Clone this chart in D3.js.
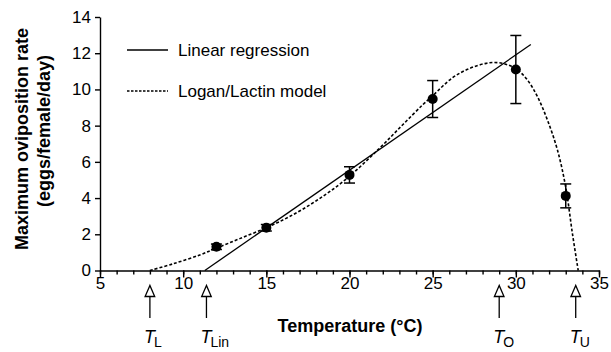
<!DOCTYPE html>
<html>
<head>
<meta charset="utf-8">
<script src="https://cdn.jsdelivr.net/npm/d3@7"></script>
<style>
  body { margin: 0; background: #fff; }
  svg { display: block; font-family: "Liberation Sans", Arial, Helvetica, sans-serif; }
  .axis path, .axis line { stroke: #000; stroke-width: 1.4; }
  .axis text { font-size: 17px; fill: #000; }
</style>
</head>
<body>
<div id="chart"></div>
<script>
// observed means with error bars
const temps = [12, 15, 20, 25, 30, 33];
const rates = [1.31, 2.36, 5.28, 9.47, 11.1, 4.12];
const errs  = [0.15, 0.18, 0.45, 1.02, 1.88, 0.66];

// linear regression (end points)
const linT = [11.3, 30.9];
const linR = [0, 12.48];

// Logan/Lactin model
const modelT = [8.0, 9.4, 11.0, 12.0, 13.4, 15.0, 16.4, 18.0, 19.8, 21.8, 23.2, 24.4, 25.0, 26.2, 27.2, 28.2, 28.9, 29.5, 30.1, 30.7, 31.3, 31.9, 32.5, 33.0, 33.4, 33.75];
const modelR = [0, 0.37, 0.86, 1.23, 1.76, 2.36, 2.98, 3.85, 5.05, 6.75, 8.05, 9.15, 9.65, 10.65, 11.15, 11.44, 11.48, 11.36, 11.08, 10.52, 9.6, 8.31, 6.66, 4.6, 2.05, 0];

// threshold markers
const markT = [8.0, 11.4, 29.0, 33.6];
const markLabel = ["L", "Lin", "O", "U"];

const xTicks = [5, 10, 15, 20, 25, 30, 35];
const yTicks = [0, 2, 4, 6, 8, 10, 12, 14];

const W = 611, H = 352;
const svg = d3.select("#chart").append("svg")
  .attr("width", W).attr("height", H);

const x = d3.scaleLinear().domain([5, 35]).range([100, 599]);
const y = d3.scaleLinear().domain([0, 14]).range([270.5, 17]);

// minor x ticks
svg.append("g")
  .attr("class", "axis")
  .attr("transform", "translate(0," + y(0) + ")")
  .call(d3.axisBottom(x).tickValues(d3.range(5, 36, 1)).tickSize(4).tickSizeOuter(0).tickFormat(""))
  .call(g => g.select(".domain").remove());

// major x axis
svg.append("g")
  .attr("class", "axis")
  .attr("transform", "translate(0," + y(0) + ")")
  .call(d3.axisBottom(x).tickValues(xTicks).tickSize(7).tickSizeOuter(0).tickFormat(d3.format("d")))
  .call(g => g.selectAll("text").attr("y", 6.5));

// y axis
svg.append("g")
  .attr("class", "axis")
  .attr("transform", "translate(" + x(5) + ",0)")
  .call(d3.axisLeft(y).tickValues(yTicks).tickSize(5).tickSizeOuter(0).tickPadding(4));

// axis titles
svg.append("text")
  .attr("x", 350).attr("y", 332)
  .attr("text-anchor", "middle")
  .style("font-size", "18px").style("font-weight", "bold")
  .text("Temperature (°C)");

svg.append("text")
  .attr("transform", "translate(28,139) rotate(-90)")
  .attr("text-anchor", "middle")
  .style("font-size", "18px").style("font-weight", "bold")
  .text("Maximum oviposition rate");

svg.append("text")
  .attr("transform", "translate(50,131) rotate(-90)")
  .attr("text-anchor", "middle")
  .style("font-size", "18px").style("font-weight", "bold")
  .text("(eggs/female/day)");

// model curve
const modelData = modelT.map((t, i) => ({t: t, r: modelR[i]}));
svg.append("path").datum(modelData)
  .attr("fill", "none")
  .attr("stroke", "#000")
  .attr("stroke-width", 1.6)
  .attr("stroke-dasharray", "3,2")
  .attr("d", d3.line().curve(d3.curveCatmullRom.alpha(0.5))
    .x(d => x(d.t)).y(d => y(d.r)));

// linear regression
const linData = linT.map((t, i) => ({t: t, r: linR[i]}));
svg.append("path").datum(linData)
  .attr("fill", "none")
  .attr("stroke", "#000")
  .attr("stroke-width", 1.3)
  .attr("d", d3.line().x(d => x(d.t)).y(d => y(d.r)));

// error bars + points
const obs = temps.map((t, i) => ({t: t, r: rates[i], e: errs[i]}));
const eb = svg.append("g").selectAll("g").data(obs).enter().append("g");
eb.append("line")
  .attr("x1", d => x(d.t)).attr("x2", d => x(d.t))
  .attr("y1", d => y(d.r - d.e)).attr("y2", d => y(d.r + d.e))
  .attr("stroke", "#000").attr("stroke-width", 1.5);
eb.append("line")
  .attr("x1", d => x(d.t) - 5.5).attr("x2", d => x(d.t) + 5.5)
  .attr("y1", d => y(d.r + d.e)).attr("y2", d => y(d.r + d.e))
  .attr("stroke", "#000").attr("stroke-width", 1.5);
eb.append("line")
  .attr("x1", d => x(d.t) - 5.5).attr("x2", d => x(d.t) + 5.5)
  .attr("y1", d => y(d.r - d.e)).attr("y2", d => y(d.r - d.e))
  .attr("stroke", "#000").attr("stroke-width", 1.5);
eb.append("circle")
  .attr("cx", d => x(d.t)).attr("cy", d => y(d.r))
  .attr("r", 5).attr("fill", "#000");

// legend
const legend = svg.append("g");
legend.append("line")
  .attr("x1", 127).attr("x2", 168).attr("y1", 50).attr("y2", 50)
  .attr("stroke", "#000").attr("stroke-width", 1.3);
legend.append("text")
  .attr("x", 178).attr("y", 56)
  .style("font-size", "17px")
  .text("Linear regression");
legend.append("line")
  .attr("x1", 127).attr("x2", 168).attr("y1", 91).attr("y2", 91)
  .attr("stroke", "#000").attr("stroke-width", 1.5)
  .attr("stroke-dasharray", "2.5,1.5");
legend.append("text")
  .attr("x", 178).attr("y", 97)
  .style("font-size", "17px")
  .text("Logan/Lactin model");

// threshold arrows
const marks = svg.append("g").selectAll("g")
  .data(markT.map((t, i) => ({t: t, lab: markLabel[i]})))
  .enter().append("g")
  .attr("transform", d => "translate(" + x(d.t) + ",0)");
marks.append("path")
  .attr("d", "M0,285.5L-4.8,296.5L4.8,296.5Z")
  .attr("fill", "#fff").attr("stroke", "#000").attr("stroke-width", 1.3);
marks.append("line")
  .attr("x1", 0).attr("x2", 0).attr("y1", 296.5).attr("y2", 318)
  .attr("stroke", "#000").attr("stroke-width", 1.3);
const lab = marks.append("text")
  .attr("x", -6).attr("y", 343)
  .style("font-size", "18px");
lab.append("tspan").style("font-style", "italic").text("T");
lab.append("tspan").attr("dy", 4).attr("dx", -1).style("font-size", "14px").text(d => d.lab);
</script>
</body>
</html>
